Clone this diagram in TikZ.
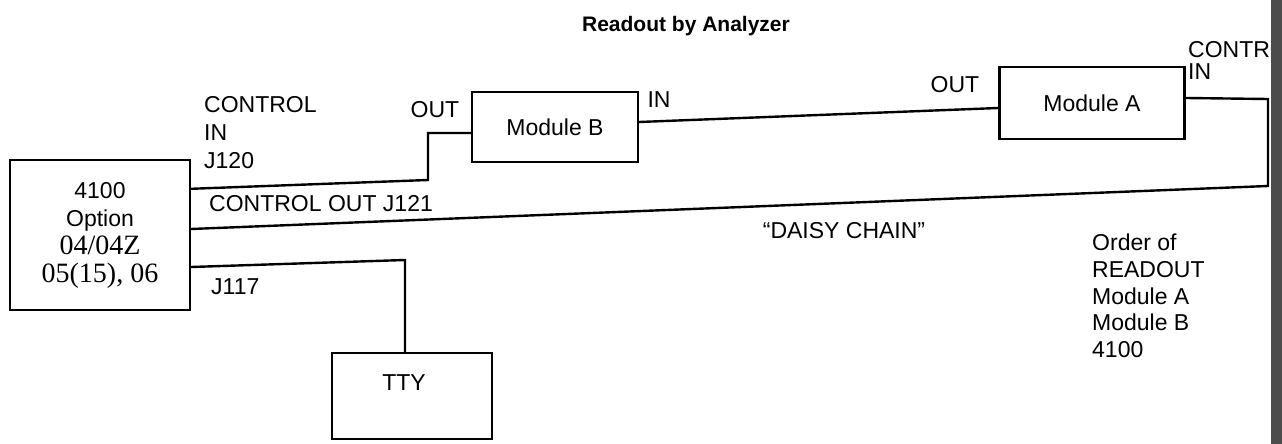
\documentclass[tikz,border=0pt]{standalone}
\usepackage{fontspec}
\setmainfont{Liberation Sans}
\newfontfamily\oldtype{Liberation Serif}
\usetikzlibrary{positioning}

\begin{document}
\begin{tikzpicture}[x=0.5pt,y=-0.5pt,line width=1.2pt,
  every node/.style={font=\fontsize{11.5}{14}\selectfont},
  box/.style={draw,inner sep=0pt},
  lbl/.style={inner sep=0pt,align=left,anchor=north west}]
\useasboundingbox (0,0) rectangle (1282,444);
\node[font=\bfseries\fontsize{10.5}{12}\selectfont] (title) at (686,26) {Readout by Analyzer};

% units
\node[box,minimum width=90pt,minimum height=75pt,align=center] (opt) at (100,235)
  {4100\\Option\\{\oldtype\fontsize{14}{14}\selectfont 04/04Z}\\{\oldtype\fontsize{14}{14}\selectfont 05(15), 06}};
\node[box,minimum width=83pt,minimum height=35pt] (modB) at (555,127) {Module B};
\node[box,minimum width=92.5pt,minimum height=36pt] (modA) at (1092,103) {Module A};
\node[box,minimum width=80pt,minimum height=43pt] (tty) at (412,396) {};
\node (ttytext) at ([xshift=-4pt,yshift=6.5pt]tty.center) {TTY};

% labels
\node[lbl] (cin) at (203,95) {CONTROL\\IN\\J120};
\node[lbl] (cout) at (208,194) {CONTROL OUT J121};
\node[lbl] (j117) at (210,277) {J117};
\node (outB) at (435,110) {OUT};
\node (inB) at (659,100) {IN};
\node (outA) at (955,85) {OUT};
\node[lbl] (cinA) at (1187,40) {CONTROL\\[-3pt]IN};
\node (daisy) at (844,231) {“DAISY CHAIN”};
\node[lbl,font=\fontsize{11.5}{13.3}\selectfont] (order) at (1091,233)
  {Order of\\READOUT\\Module A\\Module B\\4100};

% wiring
\coordinate (kink) at (428,180);
\coordinate (ttyj) at (405,260);
\coordinate (loopa) at (1268,99);
\coordinate (loopb) at (1268,186);
\draw ([yshift=-15pt]opt.north east) -- (kink) |- ([yshift=-3pt]modB.west);
\draw ([yshift=2.5pt]modB.east) -- ([yshift=-2.5pt]modA.west);
\draw ([yshift=2.5pt]modA.east) -- (loopa) -- (loopb) -- ([yshift=3pt]opt.east);
\draw ([yshift=-16pt]opt.east) -- (ttyj) -- (ttyj |- tty.north);

\fill[black!70] (1271,0) rectangle (1282,444);
\end{tikzpicture}
\end{document}
